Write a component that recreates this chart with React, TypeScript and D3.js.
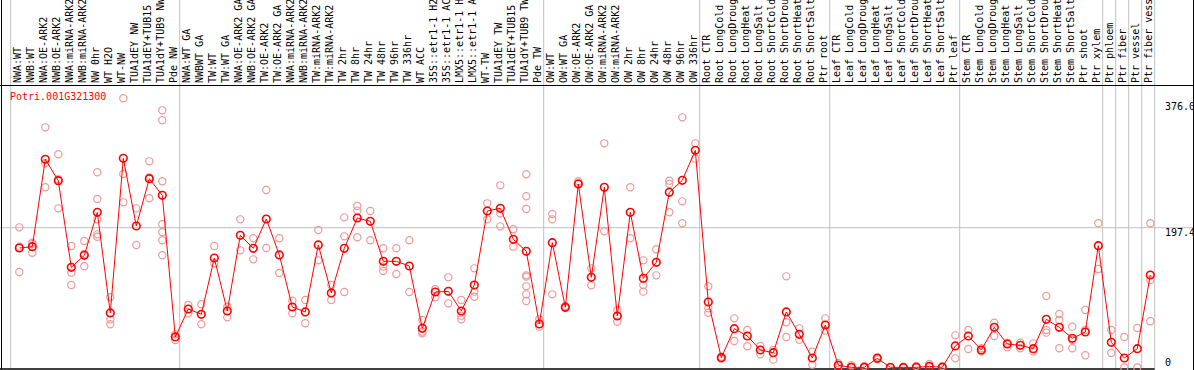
import React from "react";
import * as d3 from "d3";

const geneId = "Potri.001G321300";

const categories: string[] = [
  "NWA:WT", "NWB:WT", "NWA:OE-ARK2", "NWB:OE-ARK2", "NWA:miRNA-ARK2", "NWB:miRNA-ARK2",
  "NW 0hr", "WT H2O", "WT-NW", "TUA1dEY NW", "TUA1dEY+TUB15 NW", "TUA1dY+TUB9 NW", "Pde NW",
  "NWA:WT GA", "NWBWT GA", "TW:WT", "TW:WT GA", "NWA:OE-ARK2 GA", "NWB:OE-ARK2 GA",
  "TW:OE-ARK2", "TW:OE-ARK2 GA", "NWA:miRNA-ARK2 GA", "NWB:miRNA-ARK2 GA", "TW:miRNA-ARK2",
  "TW:miRNA-ARK2 GA", "TW 2hr", "TW 8hr", "TW 24hr", "TW 48hr", "TW 96hr", "TW 336hr",
  "WT ACC", "35S::etr1-1 H2O", "35S::etr1-1 ACC", "LMX5::etr1-1 H2O", "LMX5::etr1-1 ACC",
  "WT-TW", "TUA1dEY TW", "TUA1dEY+TUB15 TW", "TUA1dY+TUB9 TW", "Pde TW",
  "OW:WT", "OW:WT GA", "OW:OE-ARK2", "OW:OE-ARK2 GA", "OW:miRNA-ARK2", "OW:miRNA-ARK2 GA",
  "OW 2hr", "OW 8hr", "OW 24hr", "OW 48hr", "OW 96hr", "OW 336hr",
  "Root CTR", "Root LongCold", "Root LongDrought", "Root LongHeat", "Root LongSalt",
  "Root ShortCold", "Root ShortDrought", "Root ShortHeat", "Root ShortSalt", "Ptr root",
  "Leaf CTR", "Leaf LongCold", "Leaf LongDrought", "Leaf LongHeat", "Leaf LongSalt",
  "Leaf ShortCold", "Leaf ShortDrought", "Leaf ShortHeat", "Leaf ShortSalt", "Ptr leaf",
  "Stem CTR", "Stem LongCold", "Stem LongDrought", "Stem LongHeat", "Stem LongSalt",
  "Stem ShortCold", "Stem ShortDrought", "Stem ShortHeat", "Stem ShortSalt", "Ptr shoot",
  "Ptr xylem", "Ptr phloem", "Ptr fiber", "Ptr vessel", "Ptr fiber vessel",
];

// indices where a new group starts (grey separators)
const groupBreaks: number[] = [0, 13, 41, 53, 63, 73, 84, 85, 86, 87, 88];

const means: number[] = [
  168.7, 170.6, 293.9, 263.8, 141.4, 158.4, 219.1, 77.0, 295.4, 199.8, 266.6, 243.1, 43.1,
  82.6, 75.1, 154.6, 79.8, 186.6, 168.3, 209.7, 158.9, 85.4, 78.4, 173.0, 105.2, 168.3,
  211.1, 206.4, 149.9, 149.9, 143.3, 55.3, 106.6, 107.5, 79.8, 116.5, 221.0, 224.7, 181.0,
  164.0, 61.4,
  176.3, 85.0, 259.1, 127.3, 254.4, 72.7, 219.1, 125.9, 148.5, 247.3, 264.3, 306.6,
  92.5, 13.9, 54.8, 44.5, 24.7, 20.9, 78.4, 46.8, 13.4, 60.0,
  3.1, 0.2, 0.2, 12.9, 0.3, 0.1, 0.2, 1.6, 0.2, 30.4,
  44.5, 24.7, 56.7, 33.2, 31.3, 26.6, 68.0, 56.7, 41.2, 50.1, 172.0,
  35.5, 13.4, 26.6, 130.6,
];

const replicates: number[][] = [
  [197.9, 170.6, 134.9], [176.3, 174.4, 162.1], [339.1, 288.3, 254.4], [301.0, 265.7, 224.7],
  [171.6, 133.9, 116.5], [178.6, 160.3, 142.9], [275.6, 237.9, 209.2, 188.0, 184.7],
  [99.1, 68.0, 61.0], [380.1, 273.2, 233.2], [224.7, 173.0], [291.1, 268.5, 238.9],
  [363.1, 349.0, 262.9, 202.2, 190.9, 179.6, 158.4], [46.8, 38.8],
  [88.3, 76.5], [89.2, 61.0], [171.6, 147.1], [85.9, 70.8], [209.2, 165.4], [182.4, 152.7],
  [250.6, 168.7], [182.4, 133.4], [94.4, 76.5], [95.3, 62.4], [194.2, 151.3], [116.5, 95.3],
  [212.0, 185.2, 106.6], [228.0, 221.5, 183.8], [221.0, 179.6], [168.3, 142.4, 136.3],
  [168.3, 132.0], [179.6, 106.6], [67.1, 50.6, 48.2], [110.4, 99.1], [127.3, 90.6],
  [95.3, 73.2, 68.0], [140.0, 107.1, 100.0], [231.8, 209.2], [257.2, 217.7, 199.3],
  [195.1, 170.6], [272.8, 241.7, 223.8, 130.1, 128.3, 114.6, 103.3, 93.9], [68.0, 57.7],
  [216.7, 209.2, 103.3], [86.8, 84.0], [262.9, 260.1], [140.0, 116.0], [316.5, 192.3],
  [81.2, 64.7], [254.4, 182.4], [151.3, 116.5, 107.1], [166.9, 130.1], [263.8, 259.1, 219.1],
  [353.2, 234.6, 203.6], [316.5, 294.9],
  [114.6, 83.5, 77.4], [15.3, 12.5], [69.4, 37.4], [53.0, 29.9], [30.4, 18.6], [24.7, 11.1],
  [128.7, 63.8, 43.1], [55.3, 39.3], [22.4, 4.0], [69.4, 52.0],
  [5.9, 0.2], [3.1, 0.0], [2.1, 0.0], [14.4, 11.5], [0.2, 0.1], [0.0, 0.1], [2.1, 0.0],
  [4.9, 0.5], [2.1, 0.0], [45.4, 12.9],
  [53.0, 26.1], [27.1, 22.8], [63.3, 44.5], [35.1, 28.5], [35.1, 27.1], [34.1, 22.8],
  [101.0, 53.0, 49.2], [75.5, 67.1, 27.1], [57.7, 38.8, 27.1], [81.2, 53.0, 17.2],
  [203.6, 139.1],
  [53.0, 20.5], [43.1, 0.0], [55.8, 0.0], [203.6, 123.6, 65.2],
];

const yTickValues: number[] = [376.0, 197.4, 0];
const yTickLabels: string[] = ["376.0", "197.4", "0"];

const W = 1194;
const H = 370;
const FONT = "'DejaVu Sans Mono', monospace";

export default function App() {
  const plotLeft = 10.7;
  const step = 13;
  const plotRight = plotLeft + step * categories.length;
  const headerBottom = 85.5;
  const plotBottom = 369;

  const x = d3
    .scaleBand<string>()
    .domain(categories)
    .range([plotLeft, plotRight])
    .paddingInner(0)
    .paddingOuter(0);
  const pointOffset = 8.6;
  const cx = (i: number) => (x(categories[i]) as number) + pointOffset;

  const y = d3.scaleLinear().domain([0, 376]).range([367.5, 101.2]);

  const line = d3
    .line<number>()
    .x((_, i) => cx(i))
    .y((d) => y(d));

  const gridY = y(197.4);

  return (
    <svg
      width={W}
      height={H}
      style={{ position: "absolute", left: 0, top: 0, background: "#fff" }}
      fontFamily={FONT}
    >
      <rect x={0} y={0} width={W} height={H} fill="#fff" />
      {/* grey separators */}
      {groupBreaks.map((b) => {
        const gx = plotLeft + b * step;
        return (
          <line key={"g" + b} x1={gx} x2={gx} y1={0} y2={plotBottom} stroke="#c0c0c0" strokeWidth={1} />
        );
      })}
      {/* horizontal grid */}
      <line x1={0} x2={W} y1={gridY} y2={gridY} stroke="#c0c0c0" strokeWidth={1} />

      {/* header labels */}
      {categories.map((c, i) => (
        <text
          key={"l" + i}
          transform={`translate(${cx(i) + 2},83) rotate(-90)`}
          fontSize={10}
          fill="#000"
        >
          {c}
        </text>
      ))}

      {/* borders */}
      <line x1={0} x2={W} y1={headerBottom} y2={headerBottom} stroke="#000" strokeWidth={1} />
      <line x1={1.5} x2={1.5} y1={0} y2={plotBottom} stroke="#000" strokeWidth={1} />
      <line x1={W - 0.5} x2={W - 0.5} y1={0} y2={H} stroke="#000" strokeWidth={1} />
      <line x1={0} x2={plotRight} y1={plotBottom} y2={plotBottom} stroke="#000" strokeWidth={1.5} />

      {/* title */}
      <text x={10} y={100} fontSize={10} fill="#ff0000">
        {geneId}
      </text>

      {/* y-axis labels */}
      {yTickValues.map((v, k) => (
        <text
          key={"t" + k}
          x={1165}
          y={k === 2 ? 366 : y(v) + 8.5}
          fontSize={10}
          fill="#000"
        >
          {yTickLabels[k]}
        </text>
      ))}

      {/* replicates */}
      {replicates.map((reps, i) =>
        reps.map((v, j) => (
          <circle
            key={`r${i}-${j}`}
            cx={cx(i)}
            cy={y(v)}
            r={3.6}
            fill="none"
            stroke="#ee9999"
            strokeWidth={1.2}
          />
        ))
      )}

      {/* mean line */}
      <path d={line(means) || ""} fill="none" stroke="#ff0000" strokeWidth={1} />

      {/* mean markers */}
      {means.map((v, i) => (
        <circle
          key={"m" + i}
          cx={cx(i)}
          cy={y(v)}
          r={3.8}
          fill="none"
          stroke="#ff0000"
          strokeWidth={1.6}
        />
      ))}
    </svg>
  );
}
